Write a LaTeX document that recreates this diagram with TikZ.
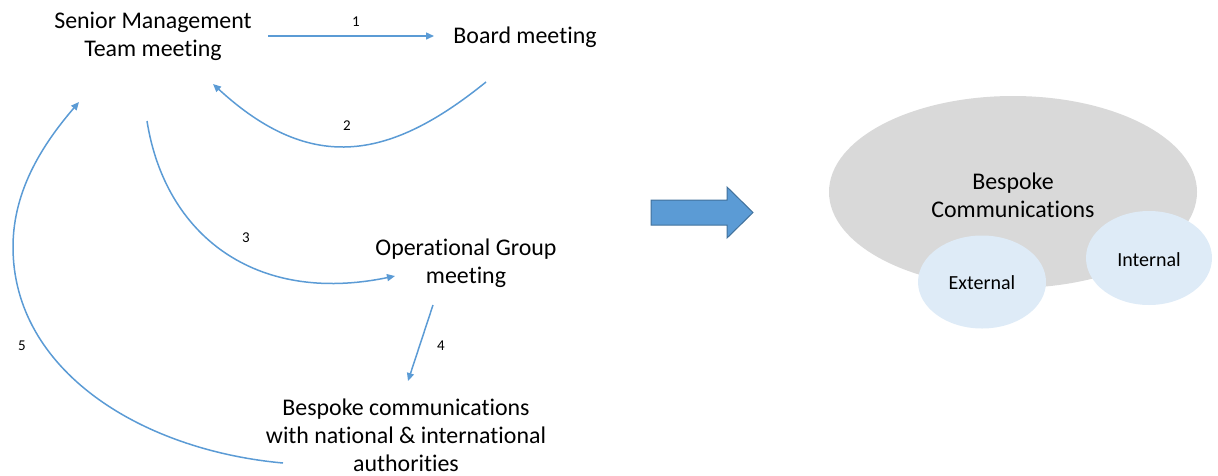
\documentclass[tikz,border=0pt]{standalone}
\usepackage{fontspec}
\setmainfont{Carlito}[Ligatures=NoCommon]
\usetikzlibrary{arrows.meta,shapes.geometric}
\definecolor{lineblue}{HTML}{5B9BD5}
\definecolor{arrowedge}{HTML}{41719C}
\definecolor{bggray}{HTML}{D9D9D9}
\definecolor{paleblue}{HTML}{DEEBF7}
\begin{document}
\begin{tikzpicture}[x=1pt,y=-1pt,
  lbl/.style={font=\fontsize{23.9}{28}\selectfont, align=center, inner sep=0pt},
  num/.style={font=\fontsize{15}{18}\selectfont, inner sep=0pt},
  smalllbl/.style={font=\fontsize{20}{24}\selectfont, inner sep=0pt},
  flow/.style={draw=lineblue, line width=1.5pt, -{Triangle[length=8pt,width=7pt]}},
  bubble/.style={ellipse, inner sep=0pt}]
\useasboundingbox (0,0) rectangle (1218,475);

% text nodes
\node[lbl] (smt) at (153,36) {Senior Management\\Team meeting};
\node[lbl] (board) at (525,37) {Board meeting};
\node[lbl] (opg) at (466,263) {Operational Group\\meeting};
\node[lbl] (auth) at (406,435) {Bespoke communications\\with national \& international\\authorities};

% connector end points
\coordinate (a1s) at (268,36);
\coordinate (a1e) at (434,36);
\coordinate (a2s) at (486,82);
\coordinate (a2e) at (213,84);
\coordinate (a3s) at (147,121);
\coordinate (a3e) at (395,276);
\coordinate (a4s) at (433,305);
\coordinate (a4e) at (408,381);
\coordinate (a5s) at (283,463);
\coordinate (a5m) at (13,247);
\coordinate (a5e) at (79,102);

% connectors
\draw[flow] (a1s) -- (a1e);
\draw[flow] (a2s) .. controls (392,158) and (313,176) .. (a2e);
\draw[flow] (a3s) .. controls (165,235) and (255,305) .. (a3e);
\draw[flow] (a4s) -- (a4e);
\draw[flow] (a5s) .. controls (140,450) and (13,370) .. (a5m)
                  .. controls (13,187) and (46.5,140) .. (a5e);

% connector labels
\node[num] (n1) at (356,22) {1};
\node[num] (n2) at (347,126) {2};
\node[num] (n3) at (246,238) {3};
\node[num] (n4) at (441,346) {4};
\node[num] (n5) at (22,346) {5};

% big arrow
\draw[fill=lineblue, draw=arrowedge, line width=1pt]
  (651,200) -- (727,200) -- (727,187) -- (753,212.5) -- (727,238) -- (727,225) -- (651,225) -- cycle;

% right-hand bubbles
\node[bubble, fill=bggray, minimum width=368pt, minimum height=192pt] (bigell) at (1013,192) {};
\node[lbl] (bespoke) at (1013,195.5) {Bespoke\\Communications};
\node[bubble, fill=paleblue, minimum width=128pt, minimum height=93pt] (ext) at (982,282) {};
\node[smalllbl] (extlbl) at (982,283) {External};
\node[bubble, fill=paleblue, minimum width=126pt, minimum height=94pt] (int) at (1149,258) {};
\node[smalllbl] (intlbl) at (1149,260) {Internal};
\end{tikzpicture}
\end{document}
